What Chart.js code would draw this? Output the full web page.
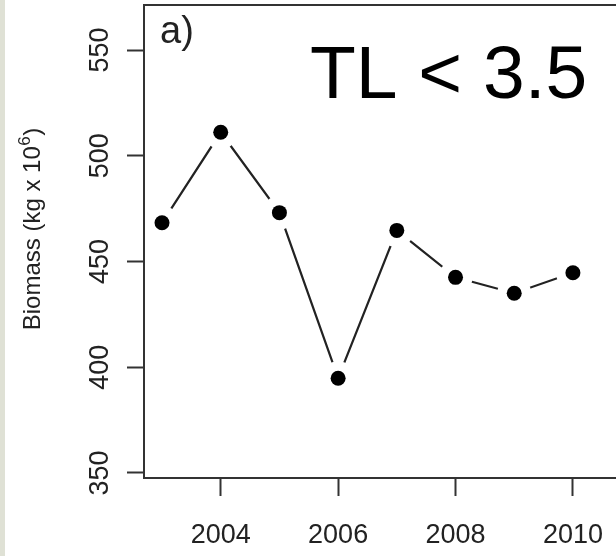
<!DOCTYPE html>
<html>
<head>
<meta charset="utf-8">
<script src="https://cdn.jsdelivr.net/npm/chart.js@4"></script>
<style>
  html, body { margin: 0; padding: 0; background: #fff; overflow: hidden; }
  #wrap { position: relative; width: 616px; height: 556px; }
</style>
</head>
<body>
<div id="wrap"><canvas id="biomassChart" width="616" height="556"></canvas></div>
<script>
// data
const years = [2003, 2004, 2005, 2006, 2007, 2008, 2009, 2010];
const biomass = [468.3, 511.1, 473.1, 394.8, 464.7, 442.5, 435.0, 444.7];
const xTicks = [2004, 2006, 2008, 2010];
const yTicks = [350, 400, 450, 500, 550];
const yTitle = ["Biomass (kg x 10", "6", ")"];
const panelLabel = "a)";
const panelTitle = "TL < 3.5";

const FONT = '"Liberation Sans", Arial, sans-serif';
const points = years.map((y, i) => ({ x: y, y: biomass[i] }));

// frame, rotated y labels and panel text
const extras = {
  id: "extras",
  beforeDraw(chart) {
    const c = chart.ctx;
    c.save();
    c.fillStyle = "#dfe1d5";
    c.fillRect(0, 0, 5, chart.height);
    c.restore();
  },
  afterDraw(chart) {
    const c = chart.ctx;
    const a = chart.chartArea;
    const ys = chart.scales.y;
    c.save();
    c.strokeStyle = "#333";
    c.lineWidth = 2;
    c.strokeRect(a.left, a.top, a.right - a.left + 4, a.bottom - a.top);

    // y tick labels, rotated like base R
    c.fillStyle = "#222";
    c.font = "27px " + FONT;
    c.textAlign = "center";
    c.textBaseline = "alphabetic";
    ys.ticks.forEach(t => {
      c.save();
      c.translate(108, ys.getPixelForValue(t.value));
      c.rotate(-Math.PI / 2);
      c.fillText(String(t.value), 0, 0);
      c.restore();
    });

    // y axis title with superscript
    const big = "24px " + FONT, small = "17px " + FONT;
    c.font = big;
    const w1 = c.measureText(yTitle[0]).width;
    const w3 = c.measureText(yTitle[2]).width;
    c.font = small;
    const w2 = c.measureText(yTitle[1]).width;
    const total = w1 + w2 + w3 + 1;
    c.save();
    c.translate(40, 229);
    c.rotate(-Math.PI / 2);
    c.textAlign = "left";
    let x0 = -total / 2;
    c.font = big;
    c.fillText(yTitle[0], x0, 0);
    c.font = small;
    c.fillText(yTitle[1], x0 + w1 + 0.5, -10);
    c.font = big;
    c.fillText(yTitle[2], x0 + w1 + w2 + 1, 0);
    c.restore();

    // panel label and title
    c.textAlign = "left";
    c.fillStyle = "#222";
    c.font = "38px " + FONT;
    c.fillText(panelLabel, 160, 43);
    c.fillStyle = "#000";
    c.font = "75px " + FONT;
    c.fillText(panelTitle, 310, 98);
    c.restore();
  }
};

new Chart(document.getElementById("biomassChart"), {
  type: "scatter",
  data: {
    datasets: [
      { data: points, showLine: true, borderColor: "#222", borderWidth: 2.2,
        pointRadius: 0, order: 3 },
      // white discs make the gaps of an R type="b" line
      { data: points, showLine: false, pointRadius: 17, pointBackgroundColor: "#fff",
        pointBorderWidth: 0, order: 2 },
      { data: points, showLine: false, pointRadius: 7.5, pointBackgroundColor: "#000",
        pointBorderWidth: 0, order: 1 }
    ]
  },
  options: {
    responsive: false,
    animation: false,
    layout: { autoPadding: false, padding: { left: 0, top: 5, right: 0, bottom: 0 } },
    plugins: { legend: { display: false }, tooltip: { enabled: false } },
    scales: {
      x: {
        type: "linear",
        min: 2002.693,
        max: 2010.734,
        afterBuildTicks: s => { s.ticks = xTicks.map(v => ({ value: v })); },
        afterFit: s => { s.height = 78; s.paddingLeft = 0; s.paddingRight = 0; },
        border: { display: false },
        grid: { drawOnChartArea: false, drawTicks: true, tickLength: 18,
                tickWidth: 2, tickColor: "#333" },
        ticks: { color: "#222", font: { family: FONT, size: 27 }, padding: 23,
                 maxRotation: 0, autoSkip: false, callback: v => String(v) }
      },
      y: {
        min: 347.6,
        max: 571.3,
        afterBuildTicks: s => { s.ticks = yTicks.map(v => ({ value: v })); },
        afterFit: s => { s.width = 144; s.paddingTop = 0; s.paddingBottom = 0; },
        border: { display: false },
        grid: { drawOnChartArea: false, drawTicks: true, tickLength: 17,
                tickWidth: 2, tickColor: "#333" },
        ticks: { display: false }
      }
    }
  },
  plugins: [extras]
});
</script>
</body>
</html>
